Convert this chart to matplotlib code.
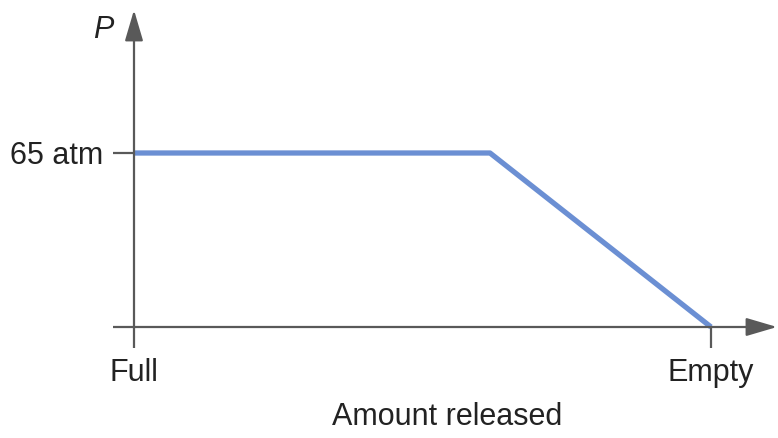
import matplotlib.pyplot as plt

plt.rcParams['font.family'] = ['Liberation Sans', 'DejaVu Sans']

# amount released (0 = full, 1 = empty) and pressure in atm
amount = [0, 0.617, 1]
pressure = [65, 65, 0]
xtick_pos = [0, 1]
xtick_labels = ['Full', 'Empty']
ytick_pos = [0, 65]
ytick_labels = ['', '65 atm']

axis_col = '#595959'
line_col = '#6b8fd3'
text_col = '#222222'
fs = 22

fig = plt.figure(figsize=(7.78, 4.38), dpi=100)
# origin sits at pixel (134, 327)
ax = fig.add_axes([134 / 778, (438 - 327) / 438, (777 - 134) / 778, 317 / 438])
ax.set_xlim(0, 643 / 577)
ax.set_ylim(0, 65 * 317 / 174)

ax.plot(amount, pressure, color=line_col, lw=3.8, solid_capstyle='butt', clip_on=False)

for s in ax.spines.values():
    s.set_visible(False)

# axes with arrow heads
arrow = dict(arrowstyle='-|>,head_length=0.95,head_width=0.28', color=axis_col,
             lw=1.6, mutation_scale=20, shrinkA=0, shrinkB=0)
ax.annotate('', xy=(1, 0), xytext=(0, 0), xycoords='axes fraction', arrowprops=arrow)
ax.annotate('', xy=(0, 1), xytext=(0, 0), xycoords='axes fraction', arrowprops=arrow)

ax.set_xticks(xtick_pos, xtick_labels)
ax.set_yticks(ytick_pos, ytick_labels)
ax.tick_params(axis='both', length=15, width=1.6, color=axis_col, labelsize=fs,
               labelcolor=text_col, pad=7)

ax.set_xlabel('Amount released', fontsize=fs, color=text_col)
ax.xaxis.set_label_coords(0.487, -0.237)
ax.set_ylabel('P', fontsize=fs, style='italic', color=text_col, rotation=0,
              ha='center', va='center')
ax.yaxis.set_label_coords(-0.048, 0.937)

fig.savefig('out.png', dpi=100)
